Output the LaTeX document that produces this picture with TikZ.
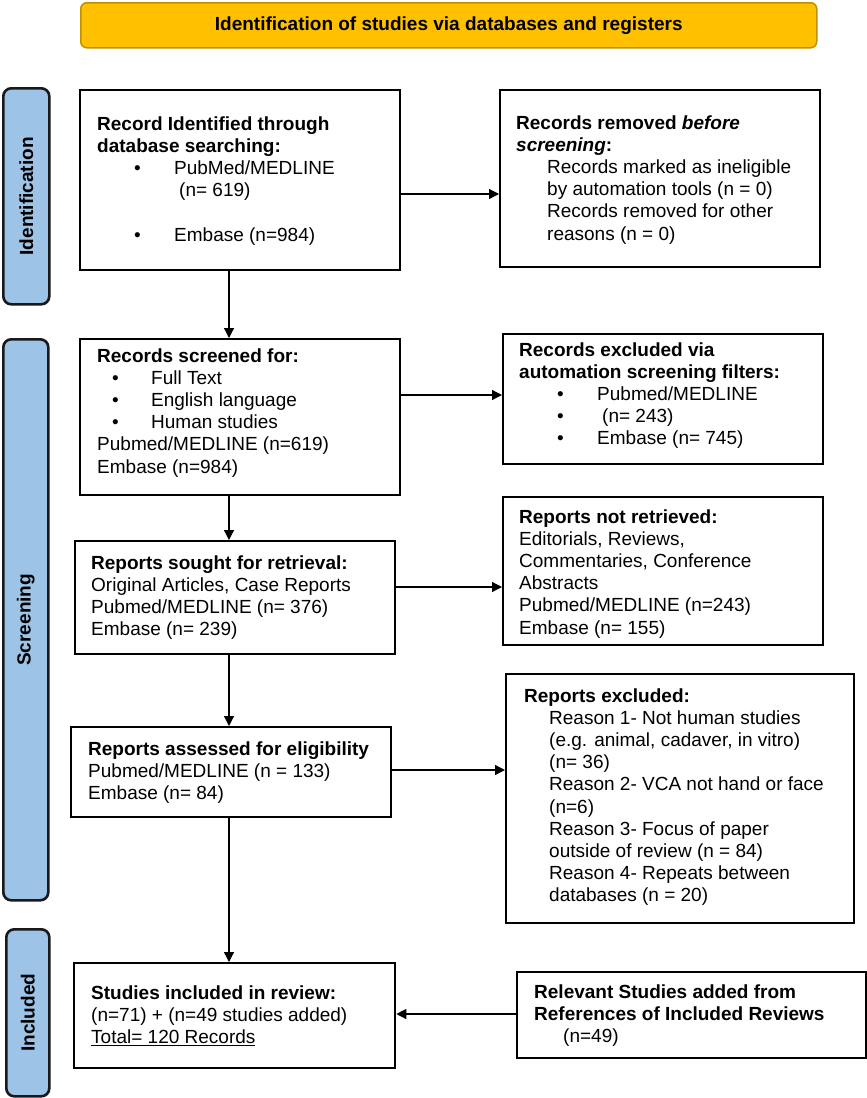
\documentclass[tikz,border=0pt]{standalone}
\usepackage{fontspec}
\setmainfont{Liberation Sans}
\usetikzlibrary{arrows.meta}
\definecolor{bannerfill}{HTML}{FFC000}
\definecolor{bannerline}{HTML}{BF9000}
\definecolor{barfill}{HTML}{9DC3E6}
\newcommand{\fs}{\fontsize{19}{22.2}\selectfont}
\newcommand{\bl}[3]{\makebox[#2pt][l]{\hspace*{#1pt}•}#3}
\newcommand{\ind}[2]{\hspace*{#1pt}#2}
\tikzset{
  box/.style={draw=black, line width=2.3pt, fill=white, inner sep=0pt, anchor=north west},
  txt/.style={inner sep=0pt, anchor=base west, font=\fs},
  bar/.style={draw=black!90, line width=2.6pt, fill=barfill, rounded corners=8pt, inner sep=0pt, anchor=north west},
  barlabel/.style={inner sep=0pt, rotate=90, font=\fs\bfseries},
  arr/.style={line width=1.3pt, -{Triangle[length=10pt,width=10pt]}}
}
\begin{document}
\begin{tikzpicture}[x=1pt,y=-1pt]
\useasboundingbox (0,0) rectangle (867,1098);
% banner
\node[draw=bannerline, line width=1.5pt, fill=bannerfill, rounded corners=6pt,
      minimum width=736pt, minimum height=45pt, inner sep=0pt, anchor=north west,
      font=\fs\bfseries] (banner) at (80,2) {Identification of studies via databases and registers};
% side bars
\node[bar, minimum width=46pt, minimum height=216pt] (barI) at (2,87) {};
\node[barlabel] (barIt) at (barI.center) {Identification};
\node[bar, minimum width=45pt, minimum height=561pt] (barS) at (2,338) {};
\node[barlabel] (barSt) at (barS.center) {Screening};
\node[bar, minimum width=43pt, minimum height=167pt] (barN) at (5,928) {};
\node[barlabel] (barNt) at (barN.center) {Included};
% boxes
\node[box, minimum width=320pt, minimum height=180pt] (A) at (79,89) {};
\node[box, minimum width=320pt, minimum height=177pt] (B) at (499,89) {};
\node[box, minimum width=320pt, minimum height=156pt] (C) at (79,338) {};
\node[box, minimum width=320pt, minimum height=130pt] (D) at (502,333) {};
\node[box, minimum width=320pt, minimum height=148pt] (E) at (502,496) {};
\node[box, minimum width=320pt, minimum height=113pt] (F) at (74,540) {};
\node[box, minimum width=320pt, minimum height=90pt] (G) at (70,726) {};
\node[box, minimum width=348pt, minimum height=249pt] (H) at (505,673) {};
\node[box, minimum width=321pt, minimum height=105pt] (I) at (73,962) {};
\node[box, minimum width=349pt, minimum height=86pt] (J) at (516,971) {};
% texts
\node[txt] (At) at (97,130) {\parbox[t]{300pt}{\fs
  \textbf{Record Identified through}\\
  \textbf{database searching:}\\
  \bl{37}{77}{PubMed/MEDLINE}\\
  \ind{82}{(n= 619)}\\[22.2pt]
  \bl{37}{77}{Embase (n=984)}}};
\node[txt] (Bt) at (516,129) {\parbox[t]{300pt}{\fs
  \textbf{Records removed \textit{before}}\\
  \textbf{\textit{screening}:}\\
  \ind{31}{Records marked as ineligible}\\
  \ind{31}{by automation tools (n = 0)}\\
  \ind{31}{Records removed for other}\\
  \ind{31}{reasons (n = 0)}}};
\node[txt] (Ct) at (97,362) {\parbox[t]{300pt}{\fs
  \textbf{Records screened for:}\\
  \bl{15}{54}{Full Text}\\
  \bl{15}{54}{English language}\\
  \bl{15}{54}{Human studies}\\
  Pubmed/MEDLINE (n=619)\\
  Embase (n=984)}};
\node[txt] (Dt) at (519,356) {\parbox[t]{300pt}{\fs
  \textbf{Records excluded via}\\
  \textbf{automation screening filters:}\\
  \bl{38}{78}{Pubmed/MEDLINE}\\
  \bl{38}{83}{(n= 243)}\\
  \bl{38}{78}{Embase (n= 745)}}};
\node[txt] (Et) at (519,523) {\parbox[t]{300pt}{\fs
  \textbf{Reports not retrieved:}\\
  Editorials, Reviews,\\
  Commentaries, Conference\\
  Abstracts\\
  Pubmed/MEDLINE (n=243)\\
  Embase (n= 155)}};
\node[txt] (Ft) at (91,569) {\parbox[t]{300pt}{\fs
  \textbf{Reports sought for retrieval:}\\
  Original Articles, Case Reports\\
  Pubmed/MEDLINE (n= 376)\\
  Embase (n= 239)}};
\node[txt] (Gt) at (88,755) {\parbox[t]{300pt}{\fs
  \textbf{Reports assessed for eligibility}\\
  Pubmed/MEDLINE (n = 133)\\
  Embase (n= 84)}};
\node[txt] (Ht) at (524,702) {\parbox[t]{320pt}{\fs
  \textbf{Reports excluded:}\\
  \ind{25}{Reason 1- Not human studies}\\
  \ind{25}{(e.g. animal, cadaver, in vitro)}\\
  \ind{25}{(n= 36)}\\
  \ind{25}{Reason 2- VCA not hand or face}\\
  \ind{25}{(n=6)}\\
  \ind{25}{Reason 3- Focus of paper}\\
  \ind{25}{outside of review (n = 84)}\\
  \ind{25}{Reason 4- Repeats between}\\
  \ind{25}{databases (n = 20)}}};
\node[txt] (It) at (91,999) {\parbox[t]{300pt}{\fs
  \textbf{Studies included in review:}\\
  (n=71) + (n=49 studies added)\\
  \underline{Total= 120 Records}}};
\node[txt] (Jt) at (534,998) {\parbox[t]{330pt}{\fs
  \textbf{Relevant Studies added from}\\
  \textbf{References of Included Reviews}\\
  \ind{29}{(n=49)}}};
% connectors
\coordinate (vx) at (229,0);
\coordinate (h1) at (0,194);
\coordinate (h2) at (0,395);
\coordinate (h3) at (0,587);
\coordinate (h4) at (0,770);
\coordinate (h5) at (0,1014);
\draw[arr] (vx |- A.south) -- (vx |- C.north);
\draw[arr] (vx |- C.south) -- (vx |- F.north);
\draw[arr] (vx |- F.south) -- (vx |- G.north);
\draw[arr] (vx |- G.south) -- (vx |- I.north);
\draw[arr] (A.east |- h1) -- (B.west |- h1);
\draw[arr] (C.east |- h2) -- (D.west |- h2);
\draw[arr] (F.east |- h3) -- (E.west |- h3);
\draw[arr] (G.east |- h4) -- (H.west |- h4);
\draw[arr] (J.west |- h5) -- (I.east |- h5);
\end{tikzpicture}
\end{document}
